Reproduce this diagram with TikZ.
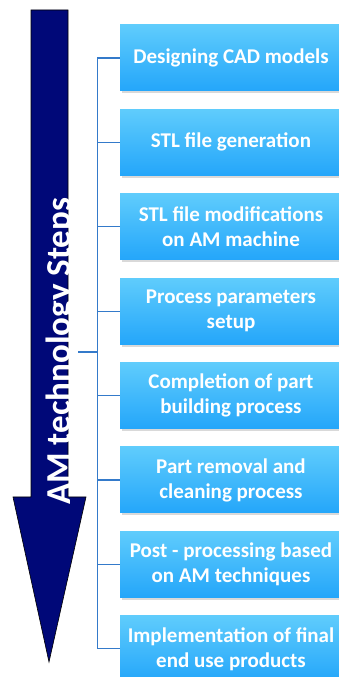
\documentclass[tikz,border=0pt]{standalone}
\usepackage{fontspec}
\setmainfont{Carlito}
\usetikzlibrary{positioning, shadows, calc}

\definecolor{navy}{RGB}{0,8,120}
\definecolor{skytop}{RGB}{95,204,252}
\definecolor{skybot}{RGB}{36,166,250}
\definecolor{linkblue}{RGB}{52,122,202}

\begin{document}
\begin{tikzpicture}[x=1pt, y=1pt,
    stepbox/.style={rectangle, minimum width=222pt, minimum height=66pt, inner sep=2pt,
      top color=skytop, bottom color=skybot, align=center, text=white,
      font=\fontsize{21}{25}\selectfont\bfseries,
      drop shadow={shadow xshift=2pt, shadow yshift=-2.5pt, opacity=0.3}},
    title/.style={rotate=90, anchor=base, text=white, font=\fontsize{35}{40}\selectfont\bfseries},
    link/.style={draw=linkblue, line width=1.2pt}]
  \useasboundingbox (0,0) rectangle (339,677);
  \clip (0,0) rectangle (339,677);

  % the big downward arrow
  \draw[fill=navy, line width=0.6pt] (31,667) -- (68,667) -- (68,180) -- (86,180)
    -- (49,15) -- (13,180) -- (31,180) -- cycle;
  \node[title] (steps) at (70,325.5) {AM technology Steps};

  % process steps
  \node[stepbox] (b1) at (231,619) {Designing CAD models};
  \node[stepbox, below=18pt of b1] (b2) {STL file generation};
  \node[stepbox, below=18pt of b2] (b3) {STL file modifications\\on AM machine};
  \node[stepbox, below=18pt of b3] (b4) {Process parameters\\setup};
  \node[stepbox, below=18pt of b4] (b5) {Completion of part\\building process};
  \node[stepbox, below=18pt of b5] (b6) {Part removal and\\cleaning process};
  \node[stepbox, below=18pt of b6] (b7) {Post - processing based\\on AM techniques};
  \node[stepbox, below=18pt of b7] (b8) {Implementation of final\\end use products};

  % bracket joining the steps to the arrow
  \coordinate (trunk) at ([xshift=-22pt]b1.west);
  \coordinate (tap) at (78,325);
  \draw[link] (b1.west) -- (trunk) |- (b8.west);
  \foreach \i in {2,...,7}
    \draw[link] (b\i.west) -- (b\i.west -| trunk);
  \draw[link] (tap) -- (tap -| trunk);
\end{tikzpicture}
\end{document}
